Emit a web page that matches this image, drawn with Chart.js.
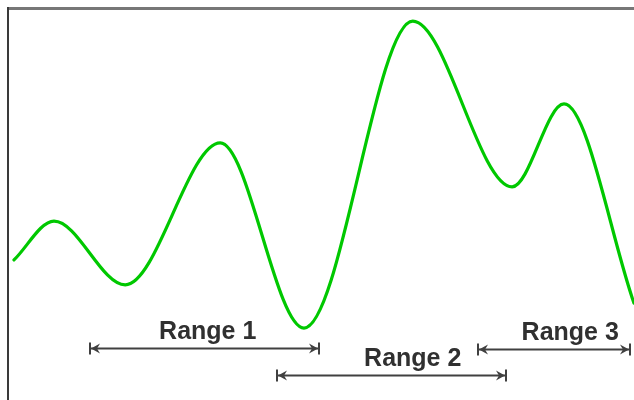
<!DOCTYPE html>
<html>
<head>
<meta charset="utf-8">
<script src="https://cdn.jsdelivr.net/npm/chart.js@4/dist/chart.umd.min.js"></script>
<style>
  html, body { margin: 0; padding: 0; background: #ffffff; }
  #wrap { width: 634px; height: 400px; position: relative; }
</style>
</head>
<body>
<div id="wrap"><canvas id="c" width="634" height="400"></canvas></div>
<script>
// Curve key points (x in 0..100 units, y in 0..100 units)
const curveX = [0.8, 7.2, 18.6, 33.8, 47.2, 64.6, 80.5, 88.8, 100];
const curveY = [36.0, 46.0, 29.6, 66.1, 18.5, 97.4, 54.8, 76.1, 24.9];

// Range annotations
const rangeLabels = ['Range 1', 'Range 2', 'Range 3'];
const rangeStart  = [13.0, 42.9, 75.1];
const rangeEnd    = [49.6, 79.6, 99.3];
const rangeLevel  = [13.4, 6.5, 13.1];
const labelCenter = [31.8, 64.6, 89.8];

const points = curveX.map((x, i) => ({ x: x, y: curveY[i] }));

const framePlugin = {
  id: 'frame',
  afterDraw(chart) {
    const ctx = chart.ctx;
    const a = chart.chartArea;
    ctx.save();
    ctx.lineCap = 'butt';
    // top border
    ctx.strokeStyle = '#777777';
    ctx.lineWidth = 3;
    ctx.beginPath();
    ctx.moveTo(a.left - 2, a.top - 2.5);
    ctx.lineTo(chart.width, a.top - 2.5);
    ctx.stroke();
    // left border
    ctx.strokeStyle = '#3a3a3a';
    ctx.lineWidth = 2;
    ctx.beginPath();
    ctx.moveTo(a.left - 1, a.top - 4);
    ctx.lineTo(a.left - 1, chart.height);
    ctx.stroke();
    ctx.restore();
  }
};

const rangePlugin = {
  id: 'ranges',
  afterDatasetsDraw(chart) {
    const ctx = chart.ctx;
    const xs = chart.scales.x, ys = chart.scales.y;
    ctx.save();
    rangeLabels.forEach((lab, i) => {
      const x0 = Math.round(xs.getPixelForValue(rangeStart[i]));
      const x1 = Math.round(xs.getPixelForValue(rangeEnd[i]));
      const y = Math.round(ys.getPixelForValue(rangeLevel[i])) + 0.5;
      ctx.strokeStyle = '#404040';
      ctx.lineWidth = 2;
      ctx.lineCap = 'butt';
      // main line
      ctx.beginPath();
      ctx.moveTo(x0, y); ctx.lineTo(x1, y); ctx.stroke();
      // end bars
      ctx.beginPath();
      ctx.moveTo(x0, y - 6); ctx.lineTo(x0, y + 6);
      ctx.moveTo(x1, y - 6); ctx.lineTo(x1, y + 6);
      ctx.stroke();
      // arrowheads
      ctx.fillStyle = '#404040';
      ctx.beginPath();
      ctx.moveTo(x0 + 1, y); ctx.lineTo(x0 + 10, y - 5); ctx.lineTo(x0 + 7, y); ctx.lineTo(x0 + 10, y + 5); ctx.closePath();
      ctx.fill();
      ctx.beginPath();
      ctx.moveTo(x1 - 1, y); ctx.lineTo(x1 - 10, y - 5); ctx.lineTo(x1 - 7, y); ctx.lineTo(x1 - 10, y + 5); ctx.closePath();
      ctx.fill();
      // label
      ctx.fillStyle = '#303030';
      ctx.font = 'bold 25px "Liberation Sans", Arial, sans-serif';
      ctx.textAlign = 'center';
      ctx.textBaseline = 'alphabetic';
      ctx.fillText(lab, xs.getPixelForValue(labelCenter[i]), y - 10);
    });
    ctx.restore();
  }
};

new Chart(document.getElementById('c'), {
  type: 'line',
  data: {
    datasets: [{
      data: points,
      borderColor: '#00c800',
      borderWidth: 3.2,
      borderCapStyle: 'round',
      borderJoinStyle: 'round',
      cubicInterpolationMode: 'monotone',
      pointRadius: 0,
      pointHoverRadius: 0,
      fill: false
    }]
  },
  options: {
    responsive: false,
    animation: false,
    events: [],
    layout: { padding: { left: 9, top: 11, right: 0, bottom: 0 } },
    plugins: { legend: { display: false }, tooltip: { enabled: false } },
    scales: {
      x: { type: 'linear', min: 0, max: 100, display: false },
      y: { type: 'linear', min: 0, max: 100, display: false }
    }
  },
  plugins: [framePlugin, rangePlugin]
});
</script>
</body>
</html>
